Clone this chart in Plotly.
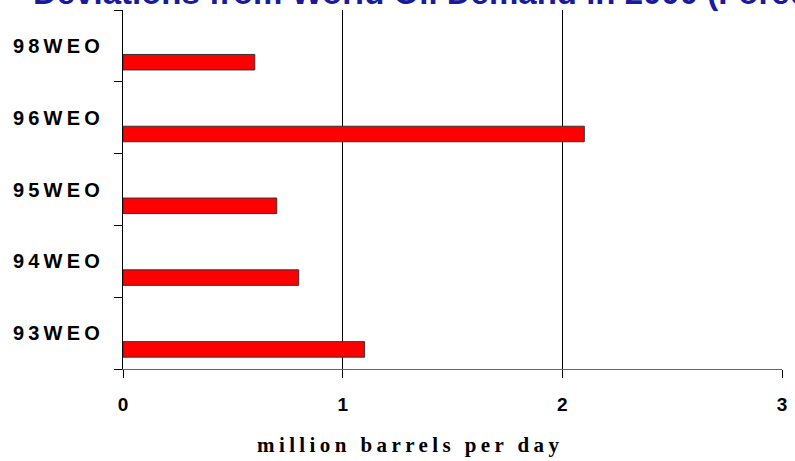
import plotly.graph_objects as go

categories = ["93WEO", "94WEO", "95WEO", "96WEO", "98WEO"]
values = [1.1, 0.8, 0.7, 2.1, 0.6]
x_ticks = [0, 1, 2, 3]
title_text = "Deviations from World Oil Demand in 2000 (Forecasts by WEO Edition)"
x_title = "million barrels per day"

def spaced(s, px):
    return f'<span style="letter-spacing:{px}px">{s}</span>'

fig = go.Figure()
fig.add_trace(go.Bar(
    y=categories, x=values, orientation="h",
    width=0.216, offset=-0.335,
    marker=dict(color="#FF0000", line=dict(color="#333333", width=1)),
    showlegend=False,
))

fig.update_layout(
    width=795, height=461,
    margin=dict(l=123, r=8, t=10, b=92),
    plot_bgcolor="white", paper_bgcolor="white",
    xaxis=dict(
        range=[0, 3], tickvals=x_ticks, ticktext=[str(v) for v in x_ticks],
        showgrid=True, gridcolor="black", gridwidth=1,
        showline=True, linecolor="#666666", linewidth=1,
        ticks="outside", ticklen=8, tickcolor="black",
        tickfont=dict(family="Arial, Liberation Sans", size=19, color="black", weight="bold"),
        ticklabelstandoff=10,
        zeroline=False,
    ),
    yaxis=dict(
        type="category", categoryorder="array", categoryarray=categories,
        range=[-0.5, 4.5],
        tickvals=categories, ticktext=[spaced(c, 4.2) for c in categories],
        tickson="boundaries", ticks="outside", ticklen=8, tickcolor="black",
        showline=True, linecolor="black", linewidth=1,
        showgrid=False, zeroline=False,
        tickfont=dict(family="Arial, Liberation Sans", size=20, color="black", weight="bold"),
        ticklabelstandoff=14,
    ),
    annotations=[
        dict(text=title_text, x=-0.14, y=1, xref="paper", yref="paper",
             xanchor="left", yanchor="bottom", yshift=-3, showarrow=False,
             font=dict(family="Arial, Liberation Sans", size=33, color="#1A1A9E", weight="bold")),
        dict(text=spaced(x_title, 4.4), x=(412 - 123) / 664, y=0, xref="paper", yref="paper",
             xanchor="center", yanchor="top", yshift=-62, showarrow=False,
             font=dict(family="Liberation Serif, Times New Roman", size=21, color="black", weight="bold")),
    ],
)

fig.write_html("out.html")
